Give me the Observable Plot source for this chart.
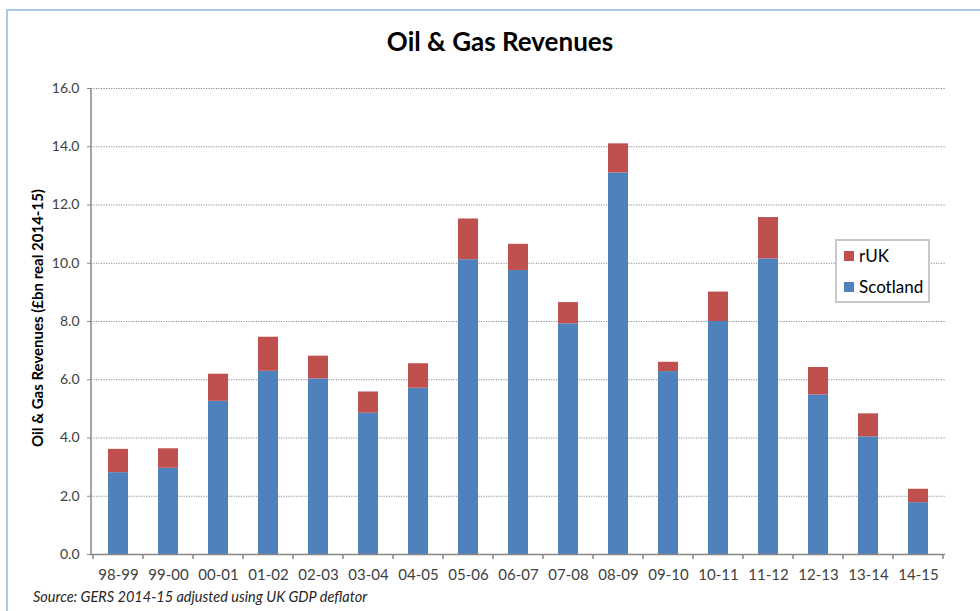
<!DOCTYPE html>
<html>
<head>
<meta charset="utf-8">
<script src="https://cdn.jsdelivr.net/npm/d3@7"></script>
<script src="https://cdn.jsdelivr.net/npm/@observablehq/plot@0.6"></script>
<style>
  html, body { margin: 0; padding: 0; background: #fff; overflow: hidden; }
  #wrap { position: relative; width: 980px; height: 611px; overflow: hidden; font-family: Lato, "Open Sans", sans-serif; }
  #frame { position: absolute; left: 6px; top: 9px; width: 1000px; height: 700px;
           border-left: 2px solid #a9c7e8; border-top: 2px solid #a9c7e8; box-sizing: border-box; }
  #chart { position: absolute; left: 0; top: 0; }
  #title { position: absolute; left: 0; width: 1000px; top: 28px; text-align: center;
           font-size: 26px; font-weight: bold; line-height: 1; color: #000; }
  #ylabel { position: absolute; width: 400px; height: 16px; left: -163px; top: 310px; line-height: 16px;
            text-align: center; transform: rotate(-90deg); font-size: 15px; font-weight: bold; color: #000; }
  #legend { position: absolute; left: 835px; top: 239px; width: 95px; height: 64px; box-sizing: border-box;
            border: 2px solid #c8c8c8; background: #fff; }
  .item { position: absolute; left: 7px; font-size: 17px; line-height: 17px; color: #000; white-space: nowrap; }
  .sw { display: inline-block; width: 10px; height: 10px; margin-right: 5px; vertical-align: 1px; }
  #caption { position: absolute; left: 33px; top: 589px; font-size: 14.5px; font-style: italic; line-height: 15px; color: #262626; white-space: nowrap; }
</style>
</head>
<body>
<div id="wrap">
  <div id="frame"></div>
  <div id="chart"></div>
  <div id="title">Oil &amp; Gas Revenues</div>
  <div id="ylabel">Oil &amp; Gas Revenues (£bn real 2014-15)</div>
  <div id="legend"></div>
  <div id="caption">Source: GERS 2014-15 adjusted using UK GDP deflator</div>
</div>
<script>
const categories = ["98-99","99-00","00-01","01-02","02-03","03-04","04-05","05-06","06-07","07-08","08-09","09-10","10-11","11-12","12-13","13-14","14-15"];
const scotland = [2.81, 2.96, 5.26, 6.29, 6.03, 4.85, 5.71, 10.12, 9.75, 7.92, 13.10, 6.28, 8.00, 10.15, 5.48, 4.04, 1.78];
const ruk      = [0.80, 0.67, 0.93, 1.17, 0.78, 0.73, 0.84, 1.40, 0.90, 0.73, 1.00, 0.32, 1.01, 1.42, 0.94, 0.79, 0.46];
const series = ["Scotland", "rUK"];
const colors = ["#4f81bd", "#c0504d"];
const yTicks = [0, 2, 4, 6, 8, 10, 12, 14, 16];

const data = categories.flatMap((c, i) => [
  {cat: c, series: "Scotland", value: scotland[i]},
  {cat: c, series: "rUK", value: ruk[i]}
]);

const svgns = "http://www.w3.org/2000/svg";

// left axis line (uses y scale)
function yAxisLine(index, scales, values, dims) {
  const g = document.createElementNS(svgns, "g");
  const l = document.createElementNS(svgns, "line");
  l.setAttribute("x1", dims.marginLeft); l.setAttribute("x2", dims.marginLeft);
  l.setAttribute("y1", scales.y(yTicks[0])); l.setAttribute("y2", scales.y(yTicks[yTicks.length - 1]));
  l.setAttribute("stroke", "#868686"); l.setAttribute("stroke-width", 1.5);
  g.appendChild(l);
  return g;
}

// x-axis tick marks at category boundaries
function xBoundaryTicks(index, scales, values, dims) {
  const g = document.createElementNS(svgns, "g");
  const x = scales.x;
  const bw = typeof x.bandwidth === "function" ? x.bandwidth() : (x.bandwidth || 0);
  const step = x(categories[1]) - x(categories[0]);
  const y0 = scales.y(0);
  const positions = categories.map(c => x(c) + bw / 2 - step / 2);
  positions.push(x(categories[categories.length - 1]) + bw / 2 + step / 2);
  for (const px of positions) {
    if (!isFinite(px)) continue;
    const l = document.createElementNS(svgns, "line");
    l.setAttribute("x1", px); l.setAttribute("x2", px);
    l.setAttribute("y1", y0); l.setAttribute("y2", y0 + 5);
    l.setAttribute("stroke", "#868686"); l.setAttribute("stroke-width", 1.5);
    g.appendChild(l);
  }
  return g;
}

const chart = Plot.plot({
  width: 980,
  height: 611,
  marginLeft: 91,
  marginRight: 35,
  marginTop: 88,
  marginBottom: 57,
  style: {fontFamily: "Lato, 'Open Sans', sans-serif", fontSize: "14px", background: "transparent"},
  x: {domain: categories, paddingInner: 0.6, paddingOuter: 0.3, label: null},
  y: {domain: [0, 16], label: null},
  color: {domain: series, range: colors},
  marks: [
    Plot.gridY(yTicks.filter(d => d > 0), {stroke: "#8a8a8a", strokeOpacity: 1, strokeDasharray: "1.2,1.3", strokeWidth: 1.2}),
    Plot.barY(data, {x: "cat", y: "value", fill: "series"}),
    Plot.ruleY([0], {stroke: "#868686", strokeWidth: 1.5}),
    yAxisLine,
    xBoundaryTicks,
    Plot.axisY({ticks: yTicks, tickFormat: d3.format(".1f"), tickSize: 4, tickPadding: 8, label: null, color: "#404040", stroke: "#868686", fontSize: 14}),
    Plot.axisX({tickSize: 0, tickPadding: 15, label: null, color: "#404040", fontSize: 15})
  ]
});
document.getElementById("chart").appendChild(chart);

// legend (rUK on top, Scotland below)
const legend = document.getElementById("legend");
series.slice().reverse().forEach((s, i) => {
  const item = document.createElement("div");
  item.className = "item";
  item.style.top = (6 + i * 31) + "px";
  const sw = document.createElement("span");
  sw.className = "sw";
  sw.style.background = colors[series.indexOf(s)];
  item.appendChild(sw);
  item.appendChild(document.createTextNode(s));
  legend.appendChild(item);
});
</script>
</body>
</html>
